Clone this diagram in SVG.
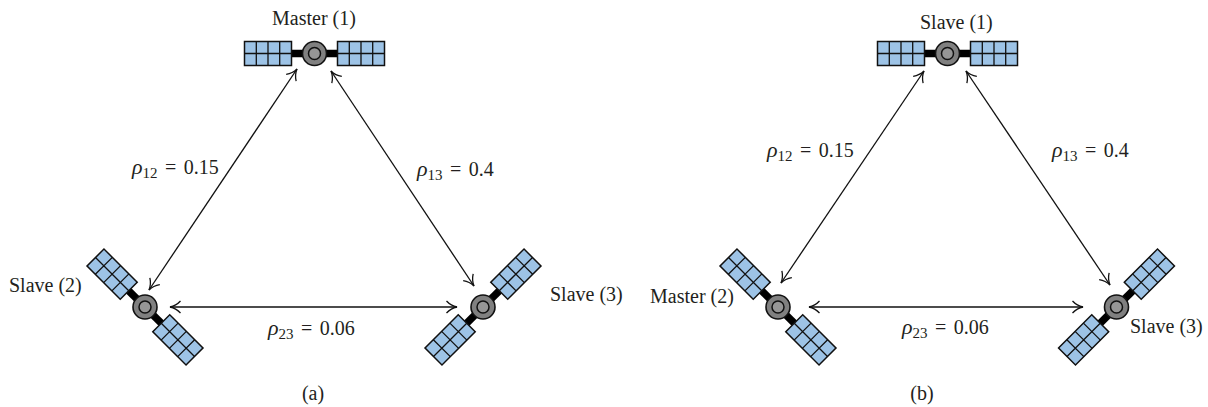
<svg xmlns="http://www.w3.org/2000/svg" width="1208" height="407" viewBox="0 0 1208 407">
<style>
text{font-family:"Liberation Serif","Times New Roman",serif;font-size:20px;fill:#231f20}
.eq{word-spacing:2.500px}
.sub{font-size:15px}
.rho{font-style:italic;font-size:22px}
.panel{fill:#9dc3e6;stroke:#111;stroke-width:1.500}
.grid{stroke:#111;stroke-width:1.300;fill:none}
.arm{stroke:#000;stroke-width:7.500;fill:none}
.outer{fill:#808080;stroke:#111;stroke-width:1.600}
.inner{fill:#969696;stroke:#111;stroke-width:1.500}
.link{stroke:#111;stroke-width:1.300;fill:none;marker-start:url(#a);marker-end:url(#a)}
</style>
<defs>
<marker id="a" viewBox="-12 -7 14 14" refX="0" refY="0" markerWidth="14" markerHeight="14" markerUnits="userSpaceOnUse" orient="auto-start-reverse">
<path d="M-10.500,-6 Q-6,-1.200 0,0 Q-6,1.200 -10.500,6" fill="none" stroke="#111" stroke-width="1.300"/>
</marker>
<g id="sat">
<path class="arm" d="M-24,0H24"/>
<rect class="panel" x="-70" y="-12" width="47" height="24"/>
<path class="grid" d="M-58.200,-12V12M-46.500,-12V12M-34.800,-12V12M-70,0H-23"/>
<rect class="panel" x="23" y="-12" width="47" height="24"/>
<path class="grid" d="M34.800,-12V12M46.500,-12V12M58.200,-12V12M23,0H70"/>
<circle class="outer" cx="0" cy="0" r="12"/>
<circle class="inner" cx="0" cy="0" r="6"/>
</g>
</defs>
<g id="connectors">
<path class="link" d="M297,69L149,290"/>
<path class="link" d="M331,71L474,286"/>
<path class="link" d="M170,307H457"/>
<path class="link" d="M924,71L781,283"/>
<path class="link" d="M966,71L1110,285"/>
<path class="link" d="M809,307H1083"/>
</g>
<g id="node-a1"><use href="#sat" transform="translate(314.500,53.500)"/><text x="272" y="25">Master (1)</text></g>
<g id="node-a2"><use href="#sat" transform="translate(145,307) rotate(45)"/><text x="9" y="292">Slave (2)</text></g>
<g id="node-a3"><use href="#sat" transform="translate(483,307) rotate(-45)"/><text x="550" y="301">Slave (3)</text></g>
<g id="node-b1"><use href="#sat" transform="translate(947.500,53.500)"/><text x="920" y="29">Slave (1)</text></g>
<g id="node-b2"><use href="#sat" transform="translate(778,307) rotate(45)"/><text x="650" y="303">Master (2)</text></g>
<g id="node-b3"><use href="#sat" transform="translate(1116.500,307) rotate(-45)"/><text x="1130" y="333">Slave (3)</text></g>
<g id="labels">
<text class="eq" x="132" y="174"><tspan class="rho">ρ</tspan><tspan class="sub" dy="4">12</tspan><tspan dy="-4"> = 0.15</tspan></text>
<text class="eq" x="417" y="176"><tspan class="rho">ρ</tspan><tspan class="sub" dy="4">13</tspan><tspan dy="-4"> = 0.4</tspan></text>
<text class="eq" x="268" y="335"><tspan class="rho">ρ</tspan><tspan class="sub" dy="4">23</tspan><tspan dy="-4"> = 0.06</tspan></text>
<text class="eq" x="767" y="157"><tspan class="rho">ρ</tspan><tspan class="sub" dy="4">12</tspan><tspan dy="-4"> = 0.15</tspan></text>
<text class="eq" x="1052" y="157"><tspan class="rho">ρ</tspan><tspan class="sub" dy="4">13</tspan><tspan dy="-4"> = 0.4</tspan></text>
<text class="eq" x="902" y="334"><tspan class="rho">ρ</tspan><tspan class="sub" dy="4">23</tspan><tspan dy="-4"> = 0.06</tspan></text>
<text x="313" y="400" text-anchor="middle">(a)</text>
<text x="922" y="400" text-anchor="middle">(b)</text>
</g>
</svg>
